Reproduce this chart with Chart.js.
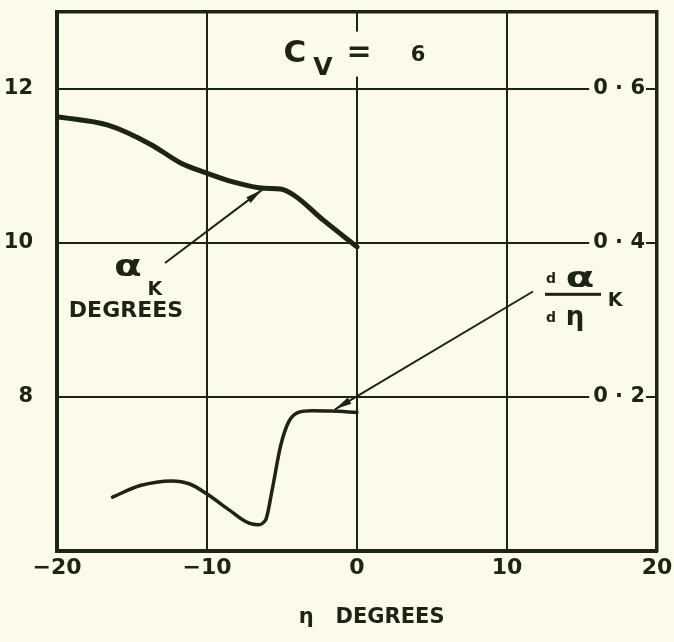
<!DOCTYPE html>
<html>
<head>
<meta charset="utf-8">
<script src="https://cdn.jsdelivr.net/npm/chart.js@4.4.1/dist/chart.umd.min.js"></script>
<style>
  html, body { margin: 0; padding: 0; background: #fcfae8; }
  #wrap { width: 674px; height: 642px; position: relative; }
</style>
</head>
<body>
<div id="wrap"><canvas id="c" width="674" height="642"></canvas></div>
<script>
// ---- data ----
const xTicks = [-20, -10, 0, 10, 20];
const leftTicks = [8, 10, 12];
const rightTicks = [0.2, 0.4, 0.6];

// alpha_K (degrees, left axis) versus eta (degrees)
const alphaEta = [-20, -16.6, -13.75, -11.76, -10.05, -8.2, -6.2, -5.1, -4.2, -2.2, 0];
const alphaK   = [11.64, 11.53, 11.28, 11.04, 10.91, 10.79, 10.71, 10.70, 10.62, 10.29, 9.95];

// d alpha_K / d eta (right axis) versus eta
const slopeEta = [-16.3, -14.45, -12.35, -11.15, -10, -8.5, -7.4, -6.65, -6.1, -5.65, -5.1, -4.55, -3.9, -3.0, -1.7, 0];
const slopeVal = [0.070, 0.085, 0.091, 0.087, 0.074, 0.053, 0.038, 0.034, 0.040, 0.080, 0.136, 0.168, 0.180, 0.182, 0.1817, 0.180];

// leader lines (start -> arrow tip), in data units
const leaderAlphaEta = [-12.8, -6.33];
const leaderAlphaVal = [9.74, 10.69];
const leaderSlopeEta = [11.73, -1.47];
const leaderSlopeVal = [0.337, 0.184];

const INK = '#1c2416';
const PAPER = '#fcfae8';
const FONT = '"DejaVu Sans", sans-serif';

function pts(xs, ys) { return xs.map((x, i) => ({ x: x, y: ys[i] })); }
function noPad(s) { s.paddingTop = 0; s.paddingBottom = 0; s.paddingLeft = 0; s.paddingRight = 0; }

// arrow heads + text annotations, positioned through the scales
const annot = {
  id: 'annot',
  afterDatasetsDraw(chart) {
    const ctx = chart.ctx;
    const sx = chart.scales.x, sy = chart.scales.y, sy2 = chart.scales.y2;
    function arrow(x0, y0, x1, y1) {
      const a = Math.atan2(y1 - y0, x1 - x0);
      const L = 17, W = 3.5;
      ctx.save();
      ctx.fillStyle = INK;
      ctx.beginPath();
      ctx.moveTo(x1, y1);
      ctx.lineTo(x1 - L * Math.cos(a) + W * Math.sin(a), y1 - L * Math.sin(a) - W * Math.cos(a));
      ctx.lineTo(x1 - L * Math.cos(a) - W * Math.sin(a), y1 - L * Math.sin(a) + W * Math.cos(a));
      ctx.closePath();
      ctx.fill();
      ctx.restore();
    }
    arrow(sx.getPixelForValue(leaderAlphaEta[0]), sy.getPixelForValue(leaderAlphaVal[0]),
          sx.getPixelForValue(leaderAlphaEta[1]), sy.getPixelForValue(leaderAlphaVal[1]));
    arrow(sx.getPixelForValue(leaderSlopeEta[0]), sy2.getPixelForValue(leaderSlopeVal[0]),
          sx.getPixelForValue(leaderSlopeEta[1]), sy2.getPixelForValue(leaderSlopeVal[1]));

    function stretched(txt, x, y, sxk) {
      ctx.save(); ctx.translate(x, y); ctx.scale(sxk, 1); ctx.fillText(txt, 0, 0); ctx.restore();
    }

    ctx.save();
    ctx.fillStyle = INK;
    ctx.textBaseline = 'middle';
    ctx.textAlign = 'center';

    // C_V = 6  (centred on the eta = 0 grid line, which it interrupts)
    const cx = sx.getPixelForValue(0), cy = sy.getPixelForValue(12.46);
    ctx.fillStyle = PAPER;
    ctx.fillRect(cx - 13, cy - 22, 26, 45);
    ctx.fillStyle = INK;
    ctx.font = 'bold 31px ' + FONT;
    ctx.fillText('C', cx - 62, cy);
    ctx.font = 'bold 25px ' + FONT;
    ctx.fillText('V', cx - 34, cy + 15);
    ctx.font = 'bold 30px ' + FONT;
    ctx.fillText('=', cx + 2, cy);
    ctx.font = 'bold 21px ' + FONT;
    ctx.fillText('6', cx + 61, cy + 2);

    // alpha_K DEGREES
    const ax = sx.getPixelForValue(-15.27), ay = sy.getPixelForValue(9.65);
    ctx.font = 'bold 30px ' + FONT;
    stretched('\u03B1', ax, ay - 2, 1.35);
    ctx.font = 'bold 19px ' + FONT;
    ctx.fillText('K', ax + 27, ay + 20);
    ctx.font = 'bold 22px ' + FONT;
    ctx.fillText('DEGREES', ax - 2, ay + 41);

    // d alpha_K / d eta
    const fx = sx.getPixelForValue(14.4), fy = sy.getPixelForValue(9.34);
    ctx.font = 'bold 14px ' + FONT;
    ctx.fillText('d', fx - 22, fy - 14);
    ctx.font = 'bold 28px ' + FONT;
    stretched('\u03B1', fx + 7, fy - 14, 1.5);
    ctx.fillRect(fx - 28, fy - 1, 56, 3);
    ctx.font = 'bold 19px ' + FONT;
    ctx.fillText('K', fx + 42, fy + 7);
    ctx.font = 'bold 14px ' + FONT;
    ctx.fillText('d', fx - 22, fy + 25);
    ctx.font = 'bold 26px ' + FONT;
    ctx.fillText('\u03B7', fx + 2, fy + 24);
    ctx.restore();
  }
};

new Chart(document.getElementById('c'), {
  type: 'line',
  data: {
    datasets: [
      { label: 'alphaK', data: pts(alphaEta, alphaK), yAxisID: 'y',
        borderColor: INK, borderWidth: 5, pointRadius: 0, cubicInterpolationMode: 'monotone',
        borderCapStyle: 'round', borderJoinStyle: 'round' },
      { label: 'slope', data: pts(slopeEta, slopeVal), yAxisID: 'y2',
        borderColor: INK, borderWidth: 3.5, pointRadius: 0, cubicInterpolationMode: 'monotone',
        borderCapStyle: 'round', borderJoinStyle: 'round' },
      { label: 'leaderA', data: pts(leaderAlphaEta, leaderAlphaVal), yAxisID: 'y',
        borderColor: INK, borderWidth: 2, pointRadius: 0, tension: 0 },
      { label: 'leaderS', data: pts(leaderSlopeEta, leaderSlopeVal), yAxisID: 'y2',
        borderColor: INK, borderWidth: 2, pointRadius: 0, tension: 0 }
    ]
  },
  options: {
    responsive: false,
    animation: false,
    events: [],
    layout: { padding: { top: 12, left: 0, right: 0, bottom: 0 } },
    plugins: { legend: { display: false }, tooltip: { enabled: false } },
    scales: {
      x: {
        type: 'linear', position: 'bottom', min: -20, max: 20,
        afterBuildTicks: s => { s.ticks = xTicks.map(v => ({ value: v })); },
        afterFit: s => { s.height = 91; noPad(s); },
        ticks: { color: INK, font: { family: FONT, size: 22, weight: 'bold' }, padding: 4, maxRotation: 0,
                 callback: v => (v < 0 ? '\u2212' + Math.abs(v) : String(v)) },
        grid: { color: c => (c.tick && Math.abs(c.tick.value) === 20 ? 'rgba(0,0,0,0)' : INK), lineWidth: 2, drawTicks: false },
        border: { color: INK, width: 4 },
        title: { display: true, text: '    \u03B7   DEGREES', color: INK,
                 font: { family: FONT, size: 21, weight: 'bold' }, padding: { top: 0, bottom: 12 } }
      },
      x2: {
        type: 'linear', position: 'top', min: -20, max: 20,
        afterFit: s => { s.height = 0; noPad(s); },
        ticks: { display: false },
        grid: { display: false, drawTicks: false },
        border: { color: INK, width: 3.5 }
      },
      y: {
        type: 'linear', position: 'left', min: 6, max: 13,
        afterBuildTicks: s => { s.ticks = leftTicks.map(v => ({ value: v })); },
        afterFit: s => { s.width = 57; noPad(s); },
        ticks: { color: INK, font: { family: FONT, size: 21, weight: 'bold' }, padding: 24 },
        grid: { color: INK, lineWidth: 2, drawTicks: false },
        border: { color: INK, width: 4 }
      },
      y2: {
        type: 'linear', position: 'right', min: 0, max: 0.7,
        afterBuildTicks: s => { s.ticks = rightTicks.map(v => ({ value: v })); },
        afterFit: s => { s.width = 17; noPad(s); },
        ticks: { color: INK, font: { family: FONT, size: 21, weight: 'bold' }, mirror: true, padding: -12, z: 1,
                 showLabelBackdrop: true, backdropColor: PAPER,
                 backdropPadding: { left: 4, right: 1, top: 0, bottom: 0 },
                 callback: v => v.toFixed(1).replace('.', ' \u00B7 ') },
        grid: { display: false, drawTicks: false },
        border: { color: INK, width: 3.5 }
      }
    }
  },
  plugins: [annot, {
    id: 'bg',
    beforeDraw(chart) {
      const ctx = chart.ctx;
      ctx.save(); ctx.fillStyle = PAPER; ctx.fillRect(0, 0, chart.width, chart.height); ctx.restore();
    }
  }]
});
</script>
</body>
</html>
